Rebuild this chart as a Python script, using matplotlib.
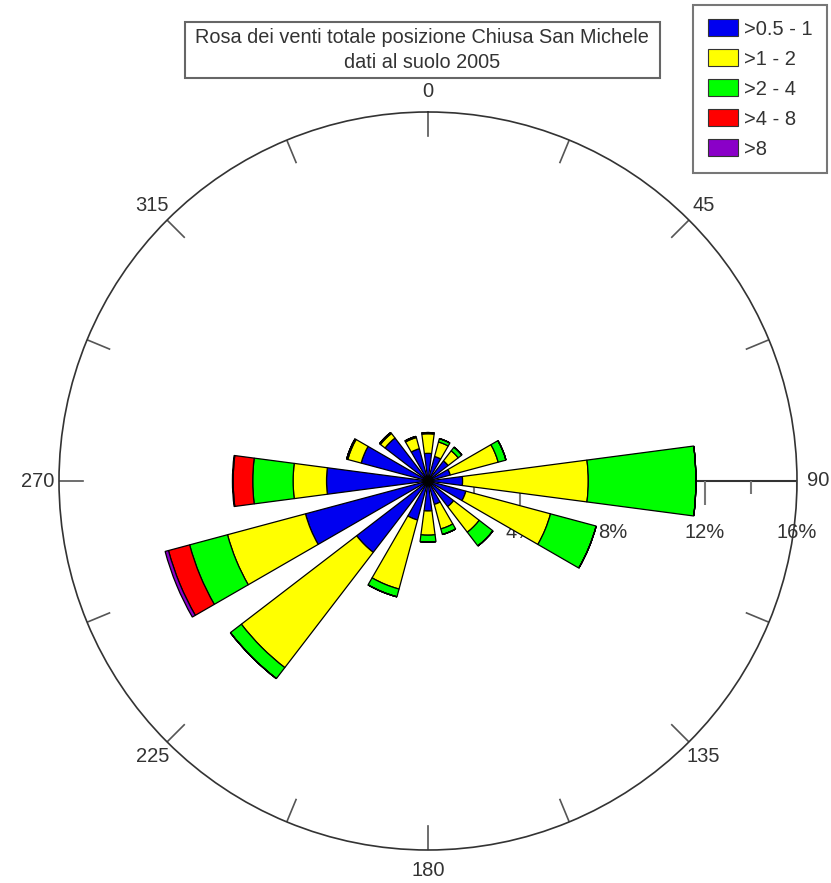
import numpy as np
from matplotlib import pyplot as plt
from matplotlib.patches import Patch, Rectangle

plt.rcParams['font.family'] = ['Liberation Sans', 'DejaVu Sans']

#%% data (frequency in %, per speed class)
directions = np.arange(0, 360, 22.5)
classes = ['>0.5 - 1', '>1 - 2', '>2 - 4', '>4 - 8', '>8']
colors = ['#0000f0', '#ffff00', '#00ff00', '#ff0000', '#8a00c8']

#               N    NNE  NE   ENE  E     ESE  SE   SSE  S    SSW  SW   WSW  W     WNW  NW   NNW
c_05_1 = [1.20, 1.10, 1.10, 1.00, 1.50, 1.70, 1.40, 1.05, 1.30, 1.75, 3.90, 5.50, 4.40, 3.00, 2.35, 1.45]
c_1_2 = [0.85, 0.65, 0.55, 2.15, 5.45, 3.80, 1.40, 1.10, 1.05, 3.10, 6.30, 3.50, 1.45, 0.60, 0.25, 0.50]
c_2_4 = [0.05, 0.15, 0.20, 0.35, 4.67, 2.05, 0.75, 0.25, 0.30, 0.35, 0.60, 1.70, 1.75, 0.05, 0.05, 0.05]
c_4_8 = [0, 0, 0, 0, 0, 0, 0, 0, 0, 0, 0, 0.95, 0.85, 0, 0, 0]
c_8 = [0, 0, 0, 0, 0, 0, 0, 0, 0, 0, 0, 0.15, 0.03, 0, 0, 0]
series = [c_05_1, c_1_2, c_2_4, c_4_8, c_8]

rmax = 16
rings = [4, 8, 12, 16]
minor_rings = [2, 6, 10, 14]

title_txt = 'Rosa dei venti totale posizione Chiusa San Michele\ndati al suolo 2005'

#%% figure
W, H = 831, 883
fig = plt.figure(figsize=(W/100, H/100), dpi=100)

cx, cy, R = 428, 481, 369
ax = fig.add_axes([(cx-R)/W, (H-cy-R)/H, 2*R/W, 2*R/H], projection='polar')
ax.set_theta_zero_location('N')
ax.set_theta_direction(-1)
ax.set_ylim(0, rmax)
ax.grid(False)
ax.set_yticks([])
ax.spines['polar'].set_color('#333333')
ax.spines['polar'].set_linewidth(1.2)

theta = np.radians(directions)
width = np.radians(15)
bottom = np.zeros(len(directions))
for k in range(len(series)):
    vals = np.array(series[k])
    ax.bar(theta, vals, width=width, bottom=bottom, color=colors[k],
           edgecolor='black', linewidth=0.9, zorder=5)
    bottom = bottom + vals

# direction labels and ticks on the outer circle
ax.set_xticks(np.radians(np.arange(0, 360, 45)))
ax.set_xticklabels([str(d) for d in range(0, 360, 45)])
ax.tick_params(axis='x', pad=8, labelsize=14.5, labelcolor='#333333', length=0)
for d in directions:
    ax.plot([np.radians(d)]*2, [rmax-1.05, rmax], color='#555555', lw=1.2, zorder=2)

# radial axis along 90 deg
east = np.radians(90)
ax.plot([east, east], [0, rmax], color='#333333', lw=1.5, zorder=2)
ax.plot([east]*len(rings), rings, ls='none', marker=3, ms=17, mew=1.5,
        color='#777777', zorder=2)
ax.plot([east]*len(minor_rings), minor_rings, ls='none', marker=3, ms=9, mew=1.5,
        color='#777777', zorder=2)
for r in rings:
    ax.annotate('%d%%' % r, xy=(east, r), xytext=(0, -37), textcoords='offset points',
                ha='center', va='center', fontsize=14.5, color='#333333', zorder=2)

# title box
fig.add_artist(Rectangle((185/W, 1-78/H), 475/W, 56/H, transform=fig.transFigure,
                         facecolor='white', edgecolor='#666666', lw=1.5))
fig.text(422/W, 1-50/H, title_txt, ha='center', va='center', fontsize=14.3,
         color='#333333', linespacing=1.4)

# legend
handles = [Patch(facecolor=colors[k], edgecolor='#333333', lw=0.8) for k in range(len(classes))]
leg = fig.legend(handles, classes, loc='upper right', bbox_to_anchor=(827/W, 1-5/H),
                 fontsize=14.5, frameon=True, fancybox=False, handlelength=1.5,
                 handleheight=0.9, labelspacing=0.53, handletextpad=0.3,
                 borderpad=0.72, borderaxespad=0)
leg.get_frame().set_edgecolor('#555555')
leg.get_frame().set_linewidth(1.5)
for t in leg.get_texts():
    t.set_color('#333333')

plt.savefig('out.png', dpi=100)
